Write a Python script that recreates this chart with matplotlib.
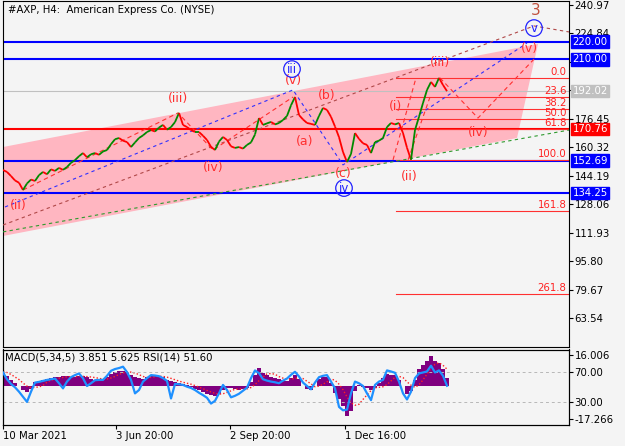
import numpy as np
import matplotlib
matplotlib.use("Agg")
import matplotlib.pyplot as plt
from matplotlib.collections import LineCollection
from matplotlib.patches import Polygon
import matplotlib.transforms as mtrans

# ---------------- data ----------------
close = [147.4, 146.3, 144.0, 141.5, 140.2, 136.1, 139.8, 142.0, 141.2, 144.5,
         146.3, 145.0, 147.8, 146.9, 148.6, 147.5, 149.1, 151.5, 153.0, 155.2,
         157.0, 154.6, 156.3, 157.0, 156.0, 157.9, 158.7, 162.0, 164.8, 165.5,
         164.0, 163.2, 160.4, 163.0, 165.5, 167.0, 168.9, 170.0, 169.2, 171.4,
         172.9, 170.2, 171.7, 174.5, 179.7, 172.9, 171.7, 170.0, 168.9, 168.9,
         166.8, 164.4, 160.5, 158.7, 163.5, 166.1, 164.4, 160.8, 159.9, 160.4,
         159.5, 161.6, 163.0, 167.5, 176.8, 172.9, 173.8, 174.6, 173.2, 174.0,
         175.7, 178.0, 184.0, 188.7, 178.5, 176.0, 174.0, 173.5, 172.9, 178.0,
         182.5, 181.4, 177.5, 172.0, 166.0, 157.6, 151.9, 156.5, 168.3, 165.0,
         162.5, 161.6, 157.0, 163.2, 164.0, 165.5, 171.7, 174.0, 173.2, 174.0,
         168.3, 160.0, 153.2, 170.0, 177.5, 185.3, 192.7, 197.2, 194.4, 199.5,
         195.5, 192.0]

macd = [6.9, 5.2, 2.9, 1.2, -0.3, -2.1, -3.3, -1.7, 1.9, 2.4,
        2.9, 3.5, 3.8, 4.3, 4.7, 5.2, 4.9, 4.3, 4.7, 5.2,
        4.9, 4.3, 3.6, 2.8, 2.9, 3.5, 4.7, 5.9, 6.9, 7.8,
        7.5, 6.9, 5.7, 4.5, 4.0, 3.5, 4.3, 5.2, 5.2, 5.2,
        4.3, 2.8, 2.3, 1.7, 1.4, 1.0, 0.3, -0.7, -1.6, -2.4,
        -3.3, -4.2, -4.7, -5.2, -4.0, -2.1, -1.4, -0.9, -1.6, -2.4,
        -1.9, -1.0, 1.7, 5.4, 9.2, 6.8, 5.4, 4.5, 4.0, 3.6,
        3.1, 2.6, 4.0, 5.7, 3.5, -0.2, -1.6, -2.4, 0.0, 3.5,
        4.7, 4.3, 1.2, -3.5, -6.9, -10.4, -15.6, -12.7, -2.6, 0.3,
        -0.7, -1.4, -2.3, -1.0, 1.2, 4.0, 6.1, 5.7, 5.4, 2.9,
        0.0, -4.3, -2.6, 2.9, 8.7, 10.9, 12.7, 15.1, 12.7, 11.6,
        8.7, 3.85]

signal = [7.5, 6.8, 5.8, 4.5, 3.2, 1.4, -0.2, -0.9, -0.8, -0.6,
          0.2, 1.8, 2.9, 3.4, 3.9, 4.3, 4.6, 4.7, 4.7, 4.8,
          4.8, 4.7, 4.5, 4.2, 3.8, 3.4, 3.5, 4.0, 4.8, 5.8,
          6.6, 7.0, 7.0, 6.5, 5.7, 4.8, 4.2, 4.3, 4.6, 4.9,
          4.8, 4.4, 3.8, 3.1, 2.4, 1.8, 1.3, 0.8, 0.1, -0.7,
          -1.5, -2.4, -3.2, -3.9, -4.3, -4.1, -3.4, -2.6, -1.8, -1.6,
          -1.7, -1.6, -0.9, 0.6, 2.6, 4.4, 6.1, 6.3, 5.9, 4.7,
          3.9, 3.4, 3.4, 3.8, 4.0, 3.7, 2.3, 1.0, -0.5, -0.2,
          0.8, 2.0, 3.5, 2.8, 0.8, -2.0, -5.7, -8.7, -10.0, -9.5,
          -7.0, -4.7, -2.5, -1.0, -0.8, -0.5, 0.6, 2.5, 4.3, 4.8,
          4.2, 2.0, 0.3, -0.8, 0.5, 3.0, 6.0, 9.0, 11.0, 11.8,
          10.5, 8.5]

rsi = [69.1, 60.2, 54.0, 49.6, 43.8, 37.1, 30.4, 43.8, 55.8, 56.7,
       58.0, 59.3, 60.2, 61.1, 54.9, 48.2, 57.1, 62.9, 65.6, 67.8,
       61.6, 51.3, 54.9, 58.9, 59.3, 59.3, 64.7, 71.3, 73.6, 74.9,
       76.7, 69.6, 59.3, 41.6, 46.0, 57.1, 61.6, 65.6, 65.1, 64.2,
       61.6, 58.0, 34.9, 54.0, 53.6, 52.7, 50.4, 48.7, 46.0, 42.4,
       39.3, 35.8, 28.2, 31.8, 41.6, 52.7, 46.0, 36.4, 38.4, 41.1,
       45.1, 49.1, 61.6, 71.8, 68.2, 60.2, 58.4, 57.1, 56.2, 54.9,
       58.4, 61.1, 66.0, 70.0, 63.8, 55.8, 51.3, 46.9, 55.8, 62.9,
       64.7, 65.6, 57.1, 48.2, 23.8, 19.3, 20.2, 41.6, 57.1, 54.9,
       51.3, 41.6, 32.7, 52.7, 57.1, 59.3, 71.8, 70.4, 68.7, 57.1,
       41.6, 33.6, 43.8, 61.6, 67.8, 69.1, 70.4, 78.0, 69.1, 71.8,
       64.7, 51.6]

date_ticks = [0, 28.25, 56.75, 85.5]
date_labels = ["10 Mar 2021", "3 Jun 20:00", "2 Sep 20:00", "1 Dec 16:00"]

price_ticks = [240.97, 224.84, 208.71, 192.58, 176.45, 160.32, 144.19,
               128.06, 111.93, 95.80, 79.67, 63.54]
hidden_ticks = [208.71, 192.58]   # covered by the level boxes in the reference

blue_levels = [220.00, 210.00, 152.69, 134.25]
red_level = 170.76
last_price = 192.02

fib_high = 199.6
fib_low = 152.9
fib_pcts = [0.0, 23.6, 38.2, 50.0, 61.8, 100.0, 161.8, 261.8]
fib_start = 98.25

channel_x = [0, 133.75, 128.5, 0]
channel_y = [160.4, 218.7, 165.5, 110.1]

blue_dash_x = [0.5, 72.5, 85, 131]
blue_dash_y = [126.5, 192.7, 150.3, 219.2]
brown_dash_x = [0, 132.75, 141.5]
brown_dash_y = [116.3, 228.9, 225.5]
green_dash_x = [0, 141.5]
green_dash_y = [112.4, 170.0]
red_zig_x = [5, 43.75, 52.5, 72.5]
red_zig_y = [136.1, 179.7, 158.7, 188.7]
red_proj1_x = [97.5, 103.25]
red_proj1_y = [153.1, 199.5]
red_proj2_x = [101.25, 106.75]
red_proj2_y = [153.1, 188.7]
red_fore_x = [109.25, 118.75, 133.25]
red_fore_y = [199.5, 176.8, 211.3]

red_labels = [("(ii)", 3.75, 127.6), ("(iii)", 43.75, 188.1), ("(iv)", 52.5, 149.1),
              ("(v)", 72.5, 198.3), ("(a)", 75.5, 163.8), ("(b)", 81, 189.8),
              ("(c)", 85, 145.7), ("(i)", 98.25, 183.1), ("(ii)", 101.5, 144.0),
              ("(iii)", 109.25, 208.0), ("(iv)", 118.75, 168.4), ("(v)", 131.5, 216.4)]
blue_labels = [("iii", 72.25, 204.5), ("iv", 85.25, 137.2), ("v", 132.75, 227.7)]
brown_label = ("3", 133.25, 237.9)

# ---------------- figure ----------------
BG = "#f4f4f4"
W, H = 625, 446
fig = plt.figure(figsize=(W / 100, H / 100), dpi=100)
fig.patch.set_facecolor(BG)
plt.rcParams['font.family'] = ['DejaVu Sans']
FS = 7.3


def px_axes(l, t, r, b):
    return fig.add_axes([l / W, 1 - b / H, (r - l) / W, (b - t) / H])


ax = px_axes(3, 1, 569, 347)
axm = px_axes(3, 349.5, 569, 424.5)

for a in (ax, axm):
    a.set_facecolor(BG)
    for s in a.spines.values():
        s.set_color("#000000")
        s.set_linewidth(0.8)

XMAX = 141.5
ax.set_xlim(0, XMAX)
ax.set_ylim(47.3, 243.0)
axm.set_xlim(0, XMAX)

# channel
ax.add_patch(Polygon(list(zip(channel_x, channel_y)), closed=True,
                     facecolor="#ffb6c1", edgecolor="none", zorder=1))

# horizontal levels
for lv in blue_levels:
    ax.axhline(lv, color="#0000ff", lw=1.5, zorder=2)
ax.axhline(red_level, color="#ff0000", lw=1.5, zorder=2)
ax.axhline(last_price, color="#c0c0c0", lw=0.8, zorder=2)

# fibonacci
rng = fib_high - fib_low
for p in fib_pcts:
    lv = fib_high - p / 100 * rng
    ax.plot([fib_start, XMAX], [lv, lv], color="#ff3030", lw=0.8, zorder=2)
    ax.text(XMAX - 0.6, lv + 0.6, f"{p:.1f}", color="#ff2020", fontsize=FS,
            ha="right", va="bottom", zorder=6)

# dashed lines
ax.plot(blue_dash_x, blue_dash_y, color="#3030ff", lw=0.8, ls=(0, (3, 3)), zorder=3)
ax.plot(brown_dash_x, brown_dash_y, color="#b04848", lw=0.8, ls=(0, (3, 3)), zorder=3)
ax.plot(green_dash_x, green_dash_y, color="#2e9a2e", lw=0.8, ls=(0, (3, 3)), zorder=3)
for xs_, ys_ in ((red_zig_x, red_zig_y), (red_proj1_x, red_proj1_y),
                 (red_proj2_x, red_proj2_y), (red_fore_x, red_fore_y)):
    ax.plot(xs_, ys_, color="#ff3030", lw=0.8, ls=(0, (4, 3)), zorder=3)

# price
xs = np.arange(len(close))
pts = np.column_stack([xs, close])
segs = np.stack([pts[:-1], pts[1:]], axis=1)
cols = ["#008a00" if close[i + 1] >= close[i] else "#ff0000" for i in range(len(close) - 1)]
ax.add_collection(LineCollection(segs, colors=cols, linewidths=1.3, zorder=4))

# wave labels
for t, x, y in red_labels:
    ax.text(x, y, t, color="#ff3030", fontsize=9, ha="center", va="center", zorder=6)
for t, x, y in blue_labels:
    ax.text(x, y, t, color="#2020ff", fontsize=8.5, ha="center", va="center", zorder=6,
            bbox=dict(boxstyle="circle,pad=0.15", fc="none", ec="#2020ff", lw=0.9))
ax.text(brown_label[1], brown_label[2], brown_label[0], color="#c0503c", fontsize=11,
        ha="center", va="center", zorder=6)

# right axis
ax.yaxis.tick_right()
ax.set_yticks(price_ticks)
ax.set_yticklabels(["" if v in hidden_ticks else f"{v:.2f}" for v in price_ticks])
ax.tick_params(axis="y", length=3, width=0.8, pad=1, labelsize=FS, colors="#000000")
ax.set_xticks([])

trans = mtrans.blended_transform_factory(ax.transAxes, ax.transData)
boxes = [(220.00, "#0000ff"), (210.00, "#0000ff"), (last_price, "#c0c0c0"),
         (red_level, "#ff0000"), (152.69, "#0000ff"), (134.25, "#0000ff")]
for v, c in boxes:
    ax.text(1.0065, v, f"{v:.2f}", transform=trans, color="white", fontsize=FS,
            ha="left", va="center", clip_on=False, zorder=10,
            bbox=dict(boxstyle="square,pad=0.12", fc=c, ec=c))

fig.text(8 / W, 1 - 10 / H, "#AXP, H4:  American Express Co. (NYSE)", fontsize=FS,
         ha="left", va="center", color="#000000")

# ---------------- indicator panel ----------------
axm.set_ylim(-19.87, 18.6)
axm.bar(xs, macd, width=1.0, color="#800080", linewidth=0, zorder=2)
axm.plot(xs, signal, color="#ff2020", lw=1.0, ls=(0, (1, 1.5)), zorder=3)

axr = axm.twinx()
axr.set_ylim(0.67, 99.3)
axr.set_xlim(0, XMAX)
axr.axhline(70, color="#b8b8b8", lw=0.7, ls=(0, (3, 3)), zorder=1)
axr.axhline(30, color="#b8b8b8", lw=0.7, ls=(0, (3, 3)), zorder=1)
axr.plot(xs, rsi, color="#1e90ff", lw=1.6, zorder=4)
axr.set_yticks([70, 30])
axr.set_yticklabels(["70.00", "30.00"])
axr.tick_params(axis="y", length=3, width=0.8, pad=1, labelsize=FS)
for s in axr.spines.values():
    s.set_color("#000000")
    s.set_linewidth(0.8)

# MACD scale labels also on the right (set after twinx, which moves them left)
axm.yaxis.tick_right()
axm.yaxis.set_label_position("right")
axm.set_yticks([16.006, -17.266])
axm.set_yticklabels(["16.006", "-17.266"])
axm.tick_params(axis="y", left=False, labelleft=False, right=True, labelright=True,
                length=3, width=0.8, pad=1, labelsize=FS)
axm.set_xticks(date_ticks)
axm.set_xticklabels(date_labels, ha="left")
axm.tick_params(axis="x", length=3, width=0.8, pad=2, labelsize=FS)

fig.text(5 / W, 1 - 357 / H, "MACD(5,34,5) 3.851 5.625 RSI(14) 51.60", fontsize=FS,
         ha="left", va="center", color="#000000")

fig.savefig("out.png", dpi=100, facecolor=BG)
